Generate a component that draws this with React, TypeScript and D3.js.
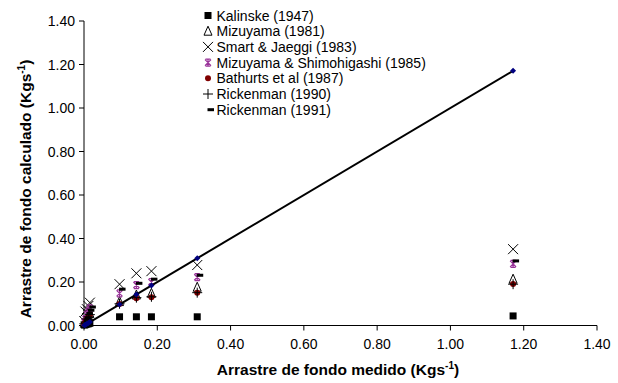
import React from "react";
import * as d3 from "d3";

const measured = [0.001, 0.004, 0.008, 0.012, 0.016, 0.097, 0.143, 0.184, 0.309, 1.171];
const kalinske = [0.002, 0.004, 0.006, 0.008, 0.01, 0.04, 0.04, 0.04, 0.04, 0.044];
const mizuyama81 = [0.01, 0.02, 0.035, 0.045, 0.055, 0.11, 0.14, 0.148, 0.176, 0.213];
const smart = [0.02, 0.064, 0.075, 0.09, 0.105, 0.19, 0.24, 0.25, 0.278, 0.351];
const mizShim = [0.015, 0.03, 0.05, 0.065, 0.079, 0.148, 0.186, 0.2, 0.222, 0.283];
const bathurst = [0.008, 0.015, 0.03, 0.04, 0.05, 0.099, 0.125, 0.13, 0.151, 0.191];
const rick90 = [0.008, 0.016, 0.03, 0.04, 0.05, 0.1, 0.128, 0.132, 0.151, 0.19];
const rick91 = [0.017, 0.033, 0.055, 0.07, 0.085, 0.167, 0.194, 0.213, 0.231, 0.297];
const ticks = [0, 0.2, 0.4, 0.6, 0.8, 1.0, 1.2, 1.4];
const legendLabels = [
  "Kalinske (1947)",
  "Mizuyama (1981)",
  "Smart & Jaeggi (1983)",
  "Mizuyama & Shimohigashi (1985)",
  "Bathurts et al (1987)",
  "Rickenman (1990)",
  "Rickenman (1991)",
];

const W = 618, H = 383;
const x = d3.scaleLinear().domain([0, 1.4]).range([84, 597]);
const y = d3.scaleLinear().domain([0, 1.4]).range([325.5, 21]);
const FONT = "'Liberation Sans', Arial, sans-serif";
const PURPLE = "#993399";
const RED = "#800000";
const BLUE = "#000080";

type Kind = "square" | "triangle" | "x" | "star" | "circle" | "plus" | "dash" | "diamond";

function Marker({ kind, cx, cy }: { kind: Kind; cx: number; cy: number }) {
  switch (kind) {
    case "square":
      return <rect x={cx - 3.5} y={cy - 3.5} width={7} height={7} fill="#000" />;
    case "triangle":
      return <path d={`M${cx},${cy - 5}L${cx + 4},${cy + 4}L${cx - 4},${cy + 4}Z`} fill="none" stroke="#000" strokeWidth={1} />;
    case "x":
      return <path d={`M${cx - 5},${cy - 5}L${cx + 5},${cy + 5}M${cx + 5},${cy - 5}L${cx - 5},${cy + 5}`} stroke="#000" strokeWidth={1} />;
    case "star":
      return <path d={`M${cx - 3},${cy - 3}L${cx + 3},${cy + 3}M${cx + 3},${cy - 3}L${cx - 3},${cy + 3}M${cx},${cy - 3.5}L${cx},${cy + 3.5}M${cx - 2.5},${cy - 3.5}L${cx + 2.5},${cy - 3.5}M${cx - 2.5},${cy + 3.5}L${cx + 2.5},${cy + 3.5}`} stroke={PURPLE} strokeWidth={1.2} />;
    case "circle":
      return <circle cx={cx} cy={cy} r={3} fill={RED} />;
    case "plus":
      return <path d={`M${cx - 5},${cy}L${cx + 5},${cy}M${cx},${cy - 5}L${cx},${cy + 5}`} stroke="#000" strokeWidth={1} />;
    case "dash":
      return <rect x={cx - 0.5} y={cy - 1.5} width={6.5} height={3} fill="#000" />;
    case "diamond":
      return <path d={`M${cx},${cy - 3}L${cx + 3},${cy}L${cx},${cy + 3}L${cx - 3},${cy}Z`} fill={BLUE} />;
  }
  return null;
}

const series: { kind: Kind; values: number[] }[] = [
  { kind: "square", values: kalinske },
  { kind: "triangle", values: mizuyama81 },
  { kind: "x", values: smart },
  { kind: "star", values: mizShim },
  { kind: "circle", values: bathurst },
  { kind: "plus", values: rick90 },
  { kind: "dash", values: rick91 },
];

export default function App() {
  const line = d3.line<number>().x((d) => x(d)).y((d) => y(d));
  const lineData = [measured[0], measured[measured.length - 1]];
  const x0 = x(0), y0 = y(0);
  return (
    <svg width={W} height={H} style={{ position: "absolute", left: 0, top: 0, background: "#fff" }} fontFamily={FONT}>
      <line x1={x0} x2={x0} y1={y(1.4)} y2={y0} stroke="#000" strokeWidth={1} />
      <line x1={x0} x2={x(1.4)} y1={y0} y2={y0} stroke="#000" strokeWidth={1} />
      {ticks.map((t) => (
        <g key={"y" + t}>
          <line x1={x0 - 5} x2={x0} y1={y(t)} y2={y(t)} stroke="#000" />
          <text x={75} y={y(t)} dy="0.36em" textAnchor="end" fontSize={14}>{t.toFixed(2)}</text>
        </g>
      ))}
      {ticks.map((t) => (
        <g key={"x" + t}>
          <line x1={x(t)} x2={x(t)} y1={y0} y2={y0 + 5} stroke="#000" />
          <text x={x(t)} y={349} textAnchor="middle" fontSize={14}>{t.toFixed(2)}</text>
        </g>
      ))}
      <text x={338} y={375} textAnchor="middle" fontSize={15.5} fontWeight="bold">
        Arrastre de fondo medido (Kgs<tspan dy={-6} fontSize={10}>-1</tspan><tspan dy={6}>)</tspan>
      </text>
      <text transform="translate(31,189) rotate(-90)" textAnchor="middle" fontSize={15.5} fontWeight="bold">
        Arrastre de fondo calculado (Kgs<tspan dy={-6} fontSize={10}>-1</tspan><tspan dy={6}>)</tspan>
      </text>
      {series.map((s, si) => (
        <g key={si}>
          {s.values.map((v, i) => (
            <Marker key={i} kind={s.kind} cx={x(measured[i])} cy={y(v)} />
          ))}
        </g>
      ))}
      <path d={line(lineData) || ""} stroke="#000" strokeWidth={2} fill="none" />
      {measured.map((m, i) => (
        <Marker key={"m" + i} kind="diamond" cx={x(m)} cy={y(m)} />
      ))}
      {legendLabels.map((l, i) => (
        <g key={l} transform={`translate(208,${15.5 + i * 15.7})`}>
          <Marker kind={series[i].kind} cx={0} cy={0} />
          <text x={8.5} y={0} dy="0.36em" fontSize={14}>{l}</text>
        </g>
      ))}
    </svg>
  );
}
